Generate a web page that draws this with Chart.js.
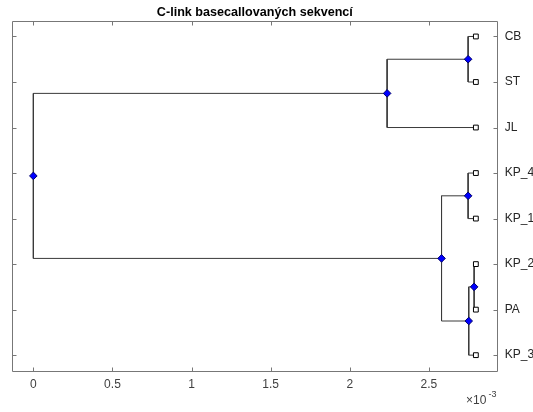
<!DOCTYPE html>
<html lang="cs">
<head>
<meta charset="UTF-8">
<title>C-link basecallovaných sekvencí</title>
<script src="https://cdn.jsdelivr.net/npm/chart.js"></script>
<style>
  html, body { margin: 0; padding: 0; background: #fff; }
  #wrap { width: 533px; height: 412px; }
</style>
</head>
<body>
<div id="wrap"><canvas id="dendro" width="533" height="412"></canvas></div>
<script>
// listy shora dolu
const leafLabels = ['CB', 'ST', 'JL', 'KP_4', 'KP_1', 'KP_2', 'PA', 'KP_3'];
// poloha listu na ose x (x 10^-3)
const leafHeight = 2.797;
// spojeni: listy 1..8, nove uzly 9..15
const mergeLeft   = [1, 9, 4, 6, 12, 11, 10];
const mergeRight  = [2, 3, 5, 7, 8, 13, 14];
const mergeHeight = [2.748, 2.236, 2.748, 2.786, 2.752, 2.580, 0];
const xTicks = [0, 0.5, 1, 1.5, 2, 2.5];

// souradnice uzlu
const nodeX = {}, nodeY = {};
leafLabels.forEach((l, i) => { nodeX[i + 1] = leafHeight; nodeY[i + 1] = i + 1; });
mergeLeft.forEach((a, i) => {
  const b = mergeRight[i], id = leafLabels.length + 1 + i;
  nodeX[id] = mergeHeight[i];
  nodeY[id] = (nodeY[a] + nodeY[b]) / 2;
});

const linkSets = mergeLeft.map((a, i) => {
  const b = mergeRight[i], h = mergeHeight[i];
  return {
    type: 'line',
    data: [
      { x: nodeX[a], y: nodeY[a] },
      { x: h, y: nodeY[a] },
      { x: h, y: nodeY[b] },
      { x: nodeX[b], y: nodeY[b] }
    ],
    borderColor: '#3a3a3a',
    borderWidth: 1,
    pointRadius: 0,
    tension: 0,
    order: 2
  };
});

const nodeSet = {
  type: 'scatter',
  data: mergeHeight.map((h, i) => ({ x: h, y: nodeY[leafLabels.length + 1 + i] })),
  pointStyle: 'rectRot',
  pointRadius: 3.8,
  backgroundColor: '#0000ff',
  borderColor: '#00006a',
  borderWidth: 1,
  order: 0
};
const leafSet = {
  type: 'scatter',
  data: leafLabels.map((l, i) => ({ x: leafHeight, y: i + 1 })),
  pointStyle: 'rect',
  pointRadius: 3.4,
  backgroundColor: '#fff',
  borderColor: '#000',
  borderWidth: 1,
  order: 1
};

const font = { family: '"Liberation Sans", Arial, sans-serif', size: 12 };

const boxPlugin = {
  id: 'box',
  beforeDatasetsDraw(chart) {
    const { ctx, chartArea: a, scales: { x, y } } = chart;
    ctx.save();
    ctx.strokeStyle = '#777';
    ctx.lineWidth = 1;
    ctx.beginPath();
    const L = Math.round(a.left) + 0.5, R = Math.round(a.right) - 0.5;
    const T = Math.round(a.top) + 0.5, B = Math.round(a.bottom) - 0.5;
    ctx.rect(L, T, R - L, B - T);
    xTicks.forEach(v => {
      const px = Math.round(x.getPixelForValue(v)) + 0.5;
      ctx.moveTo(px, B); ctx.lineTo(px, B - 4);
      ctx.moveTo(px, T); ctx.lineTo(px, T + 4);
    });
    leafLabels.forEach((l, i) => {
      const py = Math.round(y.getPixelForValue(i + 1)) + 0.5;
      ctx.moveTo(L, py); ctx.lineTo(L + 4, py);
      ctx.moveTo(R, py); ctx.lineTo(R - 4, py);
    });
    ctx.stroke();
    ctx.restore();
  },
  afterDraw(chart) {
    const { ctx, chartArea: a } = chart;
    ctx.save();
    ctx.fillStyle = '#000';
    ctx.font = 'bold 12.6px "Liberation Sans", Arial, sans-serif';
    ctx.textAlign = 'center';
    ctx.textBaseline = 'alphabetic';
    ctx.fillText('C-link basecallovaných sekvencí', (a.left + a.right) / 2, 16);
    ctx.fillStyle = '#404040';
    ctx.textAlign = 'left';
    ctx.font = '12px "Liberation Sans", Arial, sans-serif';
    ctx.fillText('\u00d710', 466, 404);
    ctx.font = '9px "Liberation Sans", Arial, sans-serif';
    ctx.fillText('-3', 488.5, 397);
    ctx.restore();
  }
};

new Chart(document.getElementById('dendro'), {
  data: { datasets: [...linkSets, leafSet, nodeSet] },
  options: {
    responsive: false,
    animation: false,
    layout: { padding: { top: 21, left: 12, right: 0, bottom: 0 } },
    plugins: { legend: { display: false }, tooltip: { enabled: false }, title: { display: false } },
    scales: {
      x: {
        type: 'linear',
        min: -0.135,
        max: 2.935,
        grid: { display: false, drawTicks: false },
        border: { display: false },
        afterBuildTicks: s => { s.ticks = xTicks.map(v => ({ value: v })); },
        afterFit: s => { s.height = 40; },
        ticks: { color: '#404040', font, padding: 5, maxRotation: 0, callback: v => String(v) }
      },
      y: {
        type: 'linear',
        position: 'right',
        reverse: true,
        min: 0.66,
        max: 8.37,
        grid: { display: false, drawTicks: false },
        border: { display: false },
        afterBuildTicks: s => { s.ticks = leafLabels.map((l, i) => ({ value: i + 1 })); },
        afterFit: s => { s.width = 35.3; },
        ticks: { color: '#262626', font, padding: 7, callback: v => leafLabels[v - 1] }
      }
    }
  },
  plugins: [boxPlugin]
});
</script>
</body>
</html>
